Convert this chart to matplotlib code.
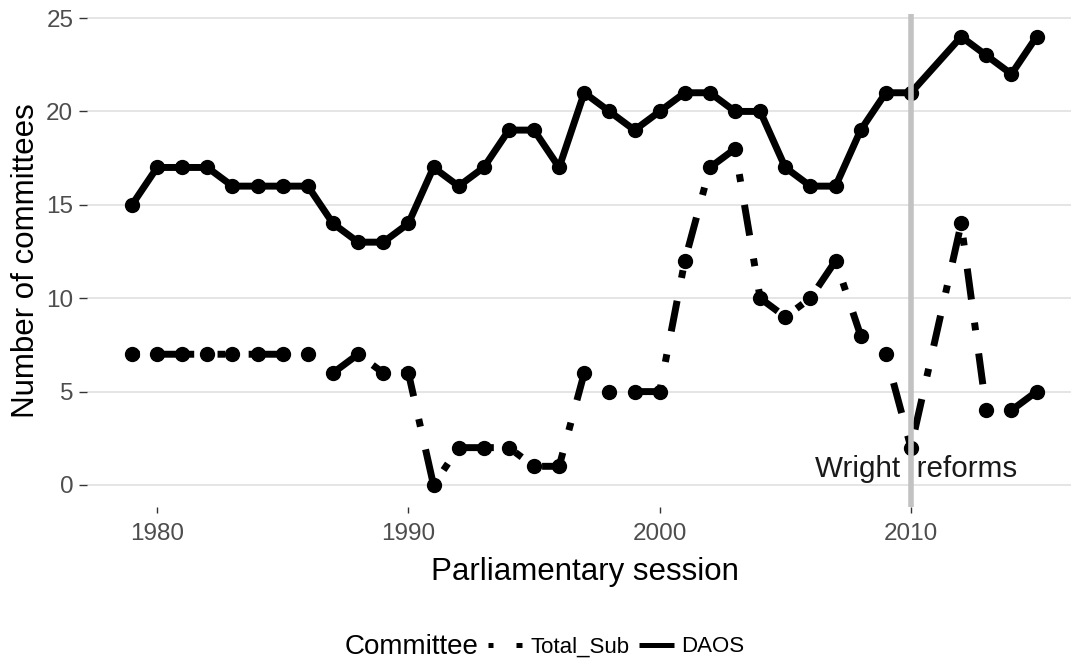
import matplotlib
matplotlib.use("Agg")
import matplotlib.pyplot as plt
from matplotlib.lines import Line2D
import numpy as np

# Data (2011 has no session: 2010-12 was a long session)
years = [1979, 1980, 1981, 1982, 1983, 1984, 1985, 1986, 1987, 1988, 1989,
         1990, 1991, 1992, 1993, 1994, 1995, 1996, 1997, 1998, 1999, 2000,
         2001, 2002, 2003, 2004, 2005, 2006, 2007, 2008, 2009, 2010,
         2012, 2013, 2014, 2015]
daos = [15, 17, 17, 17, 16, 16, 16, 16, 14, 13, 13,
        14, 17, 16, 17, 19, 19, 17, 21, 20, 19, 20,
        21, 21, 20, 20, 17, 16, 16, 19, 21, 21,
        24, 23, 22, 24]
total_sub = [7, 7, 7, 7, 7, 7, 7, 7, 6, 7, 6,
             6, 0, 2, 2, 2, 1, 1, 6, 5, 5, 5,
             12, 17, 18, 10, 9, 10, 12, 8, 7, 2,
             14, 4, 4, 5]
series_names = ["Total_Sub", "DAOS"]
x_ticks = [1980, 1990, 2000, 2010]
y_ticks = [0, 5, 10, 15, 20, 25]
reform_year = 2010
reform_label = "Wright  reforms"

plt.rcParams['font.family'] = ['Liberation Sans', 'DejaVu Sans']

W, H = 1071, 667
fig = plt.figure(figsize=(W / 100, H / 100), dpi=100)
left_px, right_px, top_px, bot_px = 86.5, 1071, 14.3, 507.4
ax = fig.add_axes([left_px / W, 1 - bot_px / H, (right_px - left_px) / W, (bot_px - top_px) / H])

lw = 5.0
k = 1.12
dotdash = (0, (1 * k, 3 * k, 4 * k, 3 * k))
ax.plot(years, daos, color='black', lw=lw, solid_capstyle='butt',
        solid_joinstyle='round', zorder=3)
ax.plot(years, daos, 'o', color='black', ms=10, zorder=4)
ax.plot(years, total_sub, color='black', lw=lw, linestyle=dotdash,
        dash_capstyle='butt', zorder=3)
ax.plot(years, total_sub, 'o', color='black', ms=10, zorder=4)

ax.text(reform_year + 0.2, 0.88, reform_label, ha='center', va='center',
        fontsize=21.3, color='#1a1a1a', zorder=5)
ax.axvline(reform_year, color='#C2C2C2', lw=4.0, zorder=6)

ax.set_xlim(1977.19, 2016.37)
ax.set_ylim(-1.2, 25.2)
ax.set_xticks(x_ticks)
ax.set_yticks(y_ticks)
for s in ax.spines.values():
    s.set_visible(False)
ax.grid(axis='y', color='#DEDEDE', lw=1.1)
ax.grid(axis='x', visible=False)
ax.set_axisbelow(True)
ax.tick_params(axis='both', colors='#333333', labelcolor='#4D4D4D', labelsize=17.5, width=1.0)
ax.tick_params(axis='y', length=6, pad=3.5)
ax.tick_params(axis='x', length=4, pad=7)

ax.set_xlabel("Parliamentary session", fontsize=22.5, color='black', va='baseline')
ax.xaxis.set_label_coords((585 - left_px) / (right_px - left_px), -(580 - bot_px) / (bot_px - top_px))
ax.set_ylabel("Number of committees", fontsize=22.5, color='black', va='center')
ax.yaxis.set_label_coords((26.5 - left_px) / (right_px - left_px), 0.5)

# Legend
fig.text(345 / W, 1 - 647 / H, "Committee", fontsize=20, ha='left', va='center')
handles = [Line2D([], [], color='black', lw=3.6, linestyle=(0, (1, 4.6, 4, 3)), dash_capstyle='butt'),
           Line2D([], [], color='black', lw=3.6, solid_capstyle='butt')]
fig.legend(handles, series_names, loc='center left', bbox_to_anchor=(488 / W, 1 - 647 / H),
           ncol=2, frameon=False, fontsize=16, handlelength=1.55, handletextpad=0.35,
           columnspacing=0.45, borderpad=0, borderaxespad=0)

fig.savefig("out.png", dpi=100)
